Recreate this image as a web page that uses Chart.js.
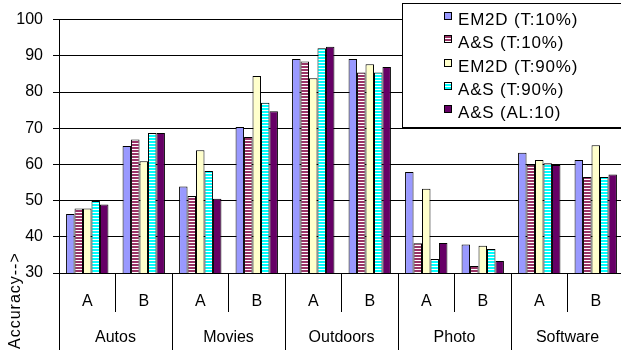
<!DOCTYPE html>
<html>
<head>
<meta charset="utf-8">
<script src="https://cdn.jsdelivr.net/npm/chart.js@4/dist/chart.umd.min.js"></script>
<style>
  html, body { margin: 0; padding: 0; overflow: hidden; background: #fff; }
  canvas { display: block; }
</style>
</head>
<body>
<canvas id="c" width="624" height="350"></canvas>
<script>
// Sub-category (data set split) per group, and the group names below them
const subCategories = ['A', 'B', 'A', 'B', 'A', 'B', 'A', 'B', 'A', 'B'];
const groups = ['Autos', 'Movies', 'Outdoors', 'Photo', 'Software'];

// Series names
const seriesNames = ['EM2D (T:10%)', 'A&S (T:10%)', 'EM2D (T:90%)', 'A&S (T:90%)', 'A&S (AL:10)'];

// Accuracy values, one per sub-category
const em2dT10 = [46.3, 65.1, 53.9, 70.3, 89.1, 89.1, 57.9, 37.9, 63.2, 61.2];
const asT10   = [47.8, 66.9, 51.3, 67.6, 88.4, 85.4, 38.2, 31.9, 59.9, 56.5];
const em2dT90 = [47.8, 60.9, 63.9, 84.4, 83.8, 87.7, 53.3, 37.5, 61.2, 65.3];
const asT90   = [49.9, 68.7, 58.2, 77.0, 92.1, 85.4, 33.9, 36.6, 60.3, 56.5];
const asAL10  = [48.9, 68.7, 50.5, 74.7, 92.5, 86.9, 38.3, 33.3, 59.8, 57.2];

// Value axis range
const yMin = 30;
const yMax = 100;
const yStep = 10;
const yTitle = 'Accuracy-->';

const FONT_FAMILY = '"Liberation Sans", Arial, sans-serif';
const canvas = document.getElementById('c');
const ctx2d = canvas.getContext('2d');

// Horizontal-stripe fill (colour band + white band)
function stripes(color) {
  const tile = document.createElement('canvas');
  tile.width = 4;
  tile.height = 3;
  const g = tile.getContext('2d');
  g.fillStyle = '#ffffff';
  g.fillRect(0, 0, 4, 3);
  g.fillStyle = color;
  g.fillRect(0, 0, 4, 2);
  return ctx2d.createPattern(tile, 'repeat');
}

const fills = [
  '#9999ff',
  stripes('#993366'),
  '#ffffcc',
  stripes('#00ffff'),
  '#660066'
];
const seriesValues = [em2dT10, asT10, em2dT90, asT90, asAL10];

// Boxed legend in the top-right corner
const boxLegend = {
  id: 'boxLegend',
  afterDraw(chart) {
    const ctx = chart.ctx;
    ctx.save();
    ctx.fillStyle = '#ffffff';
    ctx.fillRect(402.5, 3.5, 240, 124);
    ctx.strokeStyle = '#000000';
    ctx.lineWidth = 1;
    ctx.strokeRect(402.5, 3.5, 240, 124);
    ctx.font = '17px ' + FONT_FAMILY;
    ctx.letterSpacing = '0.8px';
    ctx.textAlign = 'left';
    ctx.textBaseline = 'alphabetic';
    chart.data.datasets.forEach((ds, i) => {
      const top = Math.round(12 + i * 23.3) + 0.5;
      ctx.fillStyle = ds.backgroundColor;
      ctx.fillRect(444.5, top, 7, 7);
      ctx.strokeStyle = '#000000';
      ctx.strokeRect(444.5, top, 7, 7);
      ctx.fillStyle = '#000000';
      ctx.fillText(ds.label, 458, Math.round(25 + i * 23.3));
    });
    ctx.restore();
  }
};

// Rotated value-axis title at the lower left
const axisTitle = {
  id: 'axisTitle',
  afterDraw(chart) {
    const ctx = chart.ctx;
    ctx.save();
    ctx.font = '16px ' + FONT_FAMILY;
    ctx.letterSpacing = '1px';
    ctx.fillStyle = '#000000';
    ctx.translate(20, 349);
    ctx.rotate(-Math.PI / 2);
    ctx.textAlign = 'left';
    ctx.textBaseline = 'alphabetic';
    ctx.fillText(yTitle, 0, 0);
    ctx.restore();
  }
};

const tickFont = { family: FONT_FAMILY, size: 16 };

new Chart(canvas, {
  type: 'bar',
  data: {
    labels: subCategories,
    datasets: seriesNames.map((name, i) => ({
      label: name,
      data: seriesValues[i],
      backgroundColor: fills[i],
      borderColor: '#000000',
      borderWidth: 1,
      categoryPercentage: 0.75,
      barPercentage: 1.0
    }))
  },
  options: {
    responsive: false,
    maintainAspectRatio: false,
    devicePixelRatio: 1,
    animation: false,
    layout: { padding: { top: 18, right: 0, bottom: 0, left: 0 } },
    plugins: {
      legend: { display: false },
      tooltip: { enabled: false }
    },
    scales: {
      x: {
        type: 'category',
        position: 'bottom',
        weight: 0,
        offset: true,
        grid: {
          display: true,
          offset: true,
          drawOnChartArea: false,
          drawTicks: true,
          tickLength: 39,
          color: '#000000',
          lineWidth: 1
        },
        border: { display: true, color: '#000000' },
        ticks: { font: tickFont, color: '#000000', padding: -19.6, maxRotation: 0, autoSkip: false },
        afterFit(scale) { scale.height = 39; }
      },
      x2: {
        type: 'category',
        labels: groups,
        position: 'bottom',
        weight: 1,
        offset: true,
        grid: {
          display: true,
          offset: true,
          drawOnChartArea: false,
          drawTicks: true,
          tickLength: 38,
          color: '#000000',
          lineWidth: 1
        },
        border: { display: false },
        ticks: { font: tickFont, color: '#000000', padding: -21.6, maxRotation: 0, autoSkip: false },
        afterFit(scale) { scale.height = 38; }
      },
      y: {
        min: yMin,
        max: yMax,
        grid: { color: '#000000', lineWidth: 1, tickLength: 6, drawTicks: true },
        border: { display: true, color: '#000000' },
        ticks: { stepSize: yStep, font: tickFont, color: '#000000', padding: 10 },
        afterFit(scale) { scale.width = 59; }
      }
    }
  },
  plugins: [boxLegend, axisTitle]
});
</script>
</body>
</html>
